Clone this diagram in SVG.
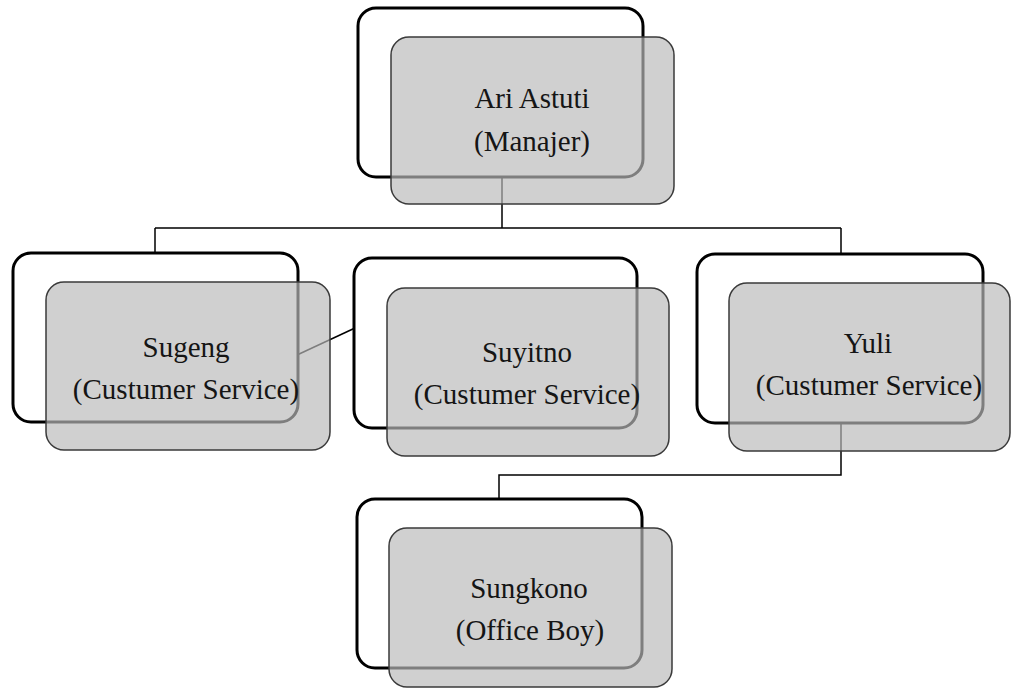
<svg xmlns="http://www.w3.org/2000/svg" width="1011" height="695" viewBox="0 0 1011 695">
<style>
.back{fill:#ffffff;stroke:#000;stroke-width:3}
.front{fill:#bababa;fill-opacity:0.68;stroke:#3a3a3a;stroke-width:1.5}
.lbl{font-family:"Liberation Serif","Times New Roman",serif;font-size:29px;fill:#151515;text-anchor:middle}
.conn{fill:none;stroke:#000;stroke-width:1.5}
</style>
<rect width="1011" height="695" fill="#ffffff"/>
<g id="connectors">
<path class="conn" d="M502 177 V228 M155 228 H841 M155 228 V253 M841 228 V254"/>
<path class="conn" d="M297 355 L355 328"/>
<path class="conn" d="M841 423 V475 H499 V499"/>
</g>
<g id="node-ari">
<rect class="back" x="358" y="8" width="285" height="169" rx="18"/>
<rect class="front" x="391" y="37" width="283" height="167" rx="18"/>
<text class="lbl" x="532" y="108">Ari Astuti</text>
<text class="lbl" x="532" y="151">(Manajer)</text>
</g>
<g id="node-sugeng">
<rect class="back" x="13" y="253" width="285" height="169" rx="18"/>
<rect class="front" x="46" y="282" width="284" height="168" rx="18"/>
<text class="lbl" x="186" y="357">Sugeng</text>
<text class="lbl" x="186" y="399">(Custumer Service)</text>
</g>
<g id="node-suyitno">
<rect class="back" x="354" y="258" width="283" height="170" rx="18"/>
<rect class="front" x="387" y="288" width="282" height="168" rx="18"/>
<text class="lbl" x="527" y="362">Suyitno</text>
<text class="lbl" x="527" y="404">(Custumer Service)</text>
</g>
<g id="node-yuli">
<rect class="back" x="697" y="254" width="286" height="169" rx="18"/>
<rect class="front" x="729" y="283" width="281" height="168" rx="18"/>
<text class="lbl" x="868" y="353">Yuli</text>
<text class="lbl" x="869" y="395">(Custumer Service)</text>
</g>
<g id="node-sungkono">
<rect class="back" x="357" y="499" width="285" height="169" rx="18"/>
<rect class="front" x="389" y="528" width="283" height="159" rx="18"/>
<text class="lbl" x="529" y="598">Sungkono</text>
<text class="lbl" x="530" y="640">(Office Boy)</text>
</g>
</svg>
